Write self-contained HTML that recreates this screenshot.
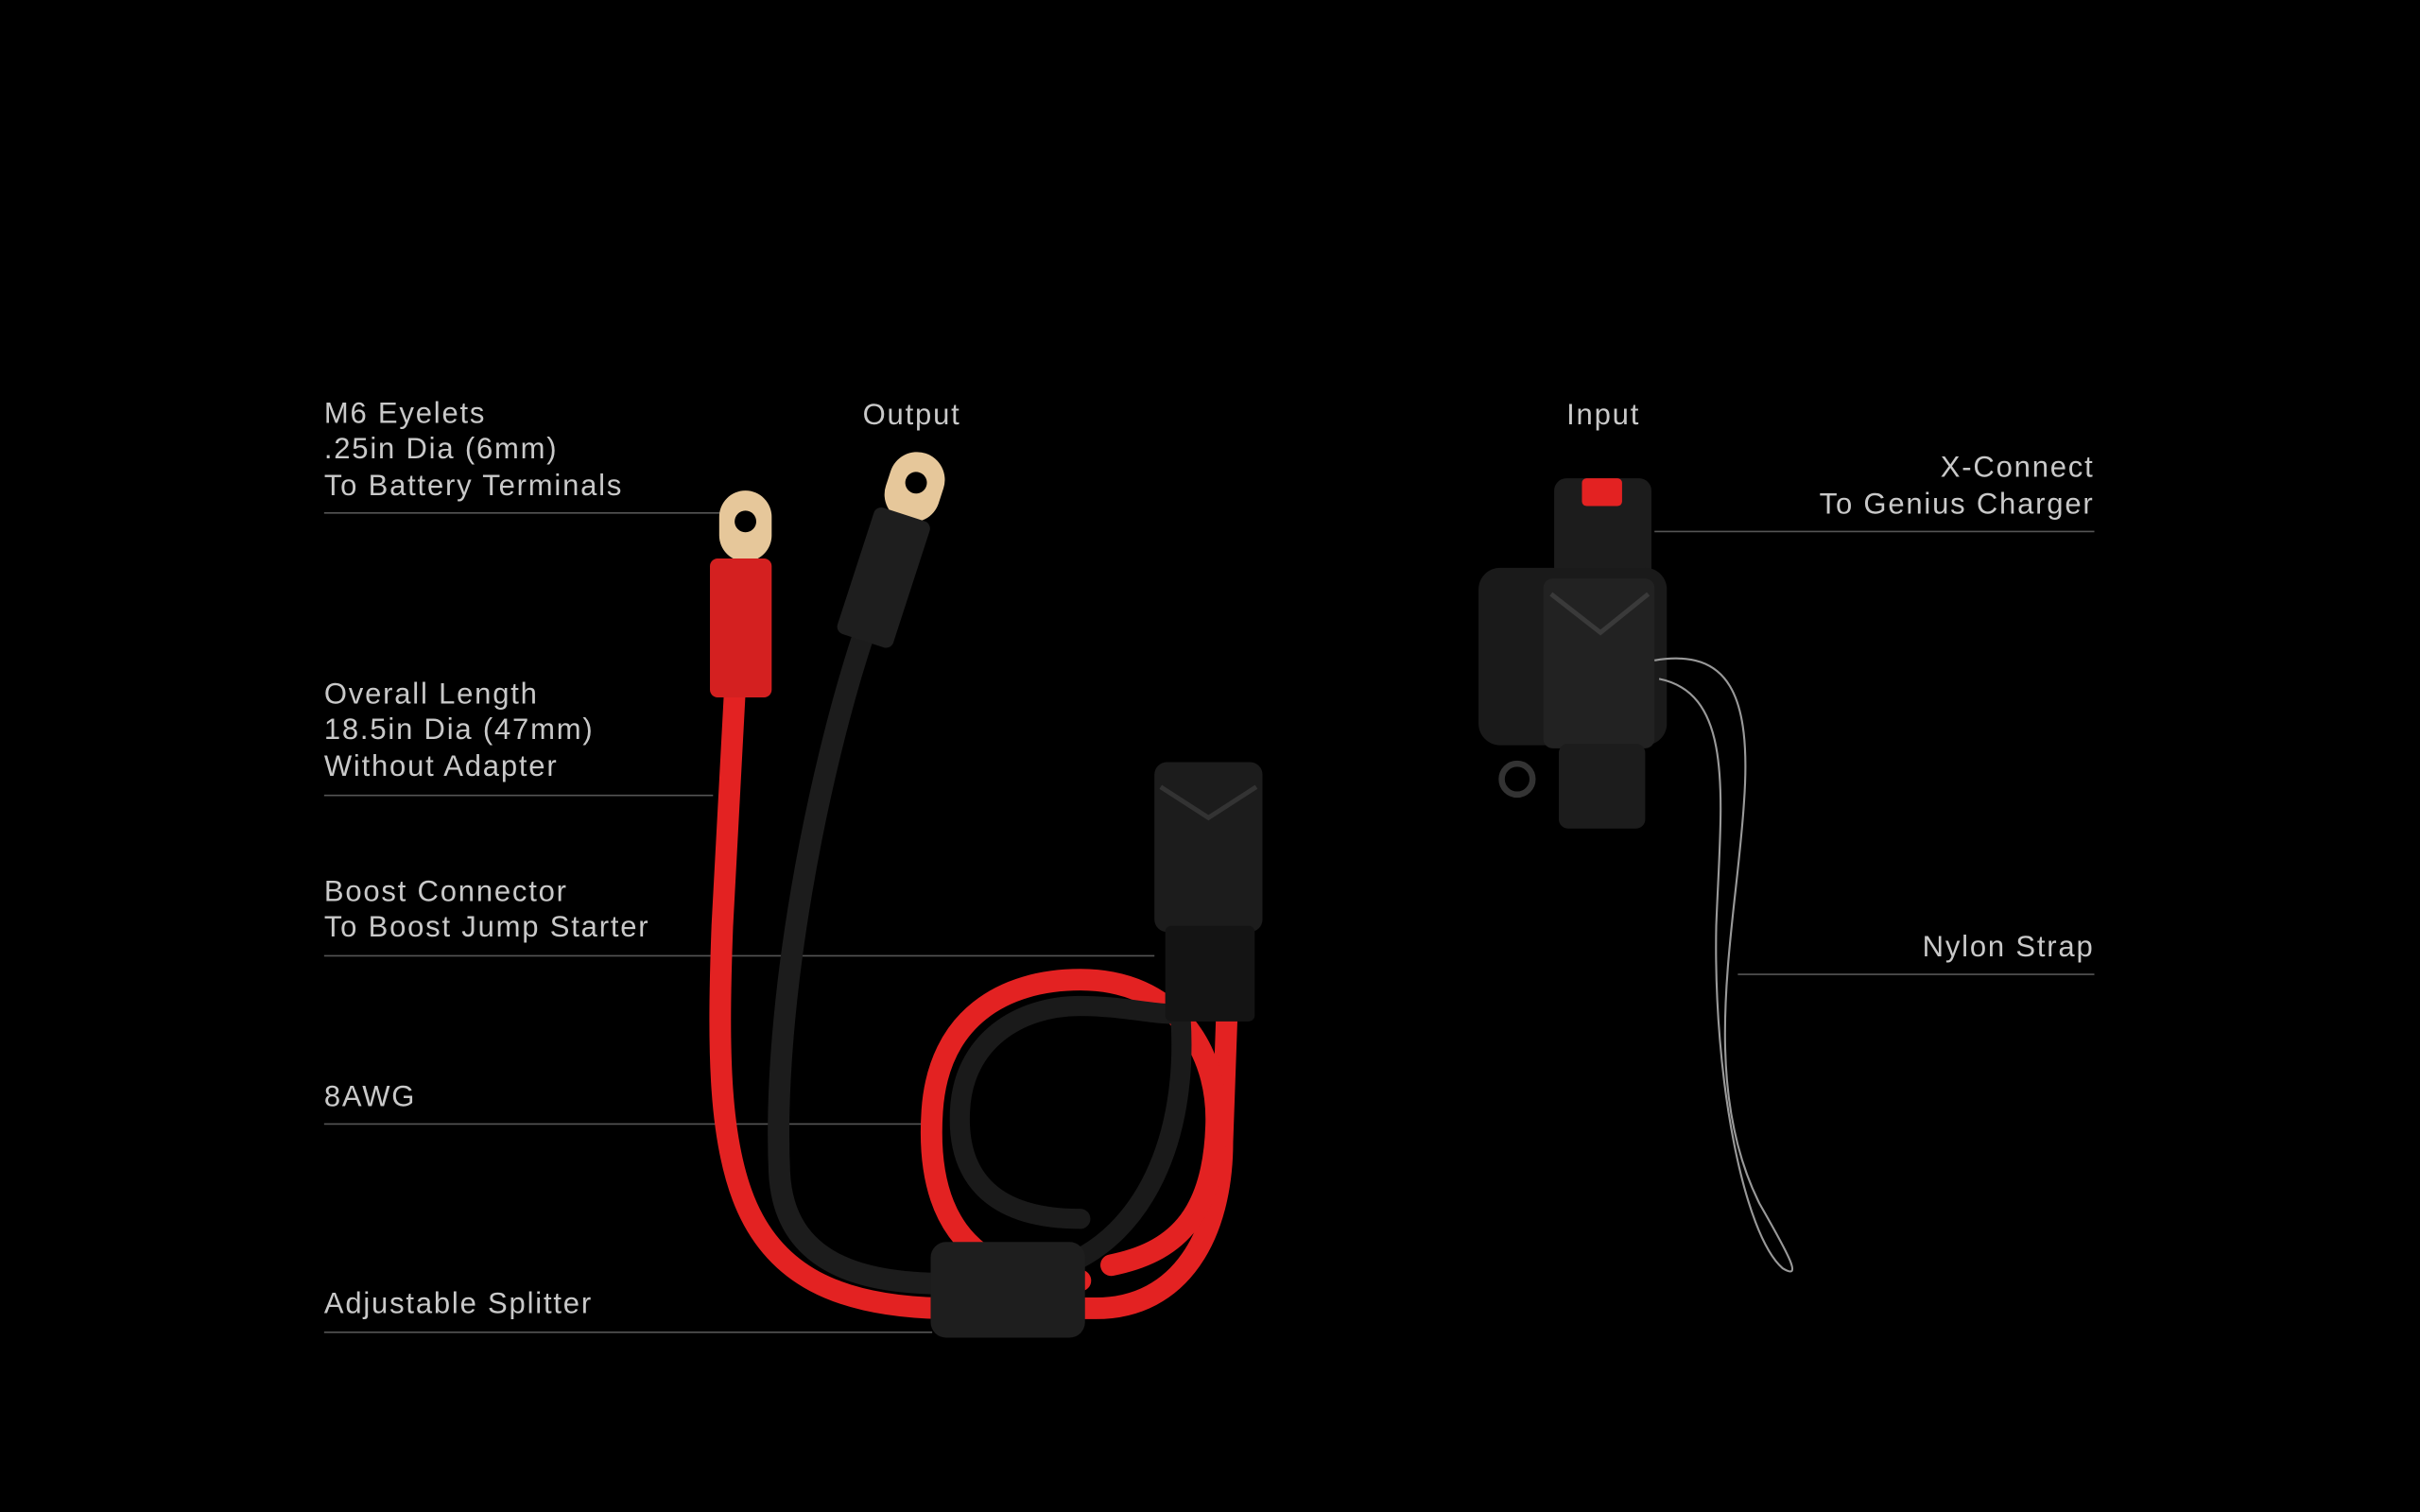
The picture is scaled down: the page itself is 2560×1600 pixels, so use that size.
<!DOCTYPE html>
<html><head><meta charset="utf-8"><style>
html,body{margin:0;padding:0;background:#000;}
svg{display:block}
text{font-family:"Liberation Sans",sans-serif;font-size:19px;fill:#c9c9c9;letter-spacing:1.1px;}
</style></head><body>
<svg width="2560" height="1600" viewBox="0 0 1568 980" xmlns="http://www.w3.org/2000/svg">
<rect width="1568" height="980" fill="#000"/>
<g>
<text x="210" y="274">M6 Eyelets</text>
<text x="210" y="297">.25in Dia (6mm)</text>
<text x="210" y="321">To Battery Terminals</text>
<text x="559" y="275">Output</text>
<text x="1015" y="275">Input</text>
<text x="1357" y="309" text-anchor="end">X-Connect</text>
<text x="1357" y="333" text-anchor="end">To Genius Charger</text>
<text x="210" y="456">Overall Length</text>
<text x="210" y="479">18.5in Dia (47mm)</text>
<text x="210" y="503">Without Adapter</text>
<text x="210" y="584">Boost Connector</text>
<text x="210" y="607">To Boost Jump Starter</text>
<text x="210" y="717">8AWG</text>
<text x="210" y="851">Adjustable Splitter</text>
<text x="1357" y="620" text-anchor="end">Nylon Strap</text>
</g>
<g stroke="#555" stroke-width="1">
<line x1="210" y1="332.5" x2="468" y2="332.5"/>
<line x1="1072" y1="344.5" x2="1357" y2="344.5"/>
<line x1="210" y1="515.5" x2="462" y2="515.5"/>
<line x1="210" y1="619.5" x2="748" y2="619.5"/>
<line x1="210" y1="728.5" x2="598" y2="728.5"/>
<line x1="210" y1="863.5" x2="604" y2="863.5"/>
<line x1="1126" y1="631.5" x2="1357" y2="631.5"/>
</g>
<g fill="none" stroke-linecap="round">
<path d="M560,410 C530,500 500,650 505,760 C508,820 560,832 612,832" stroke="#1c1c1c" stroke-width="14"/>
<path d="M476,450 L468,600 C462,760 470,845 610,848 L710,848 C765,848 792,800 792,740 L795,655" stroke="#e32222" stroke-width="14"/>
<path d="M700,830 C620,830 600,780 604,720 C608,660 650,635 700,635 C760,635 790,680 788,730 C786,790 760,812 720,820" stroke="#e32222" stroke-width="14"/>
<path d="M700,790 C640,790 620,760 622,720 C624,675 660,652 700,652 C740,652 770,665 775,650" stroke="#1a1a1a" stroke-width="13"/>
<path d="M765,660 C770,740 740,800 690,820" stroke="#1a1a1a" stroke-width="13"/>
</g>
<rect x="603" y="805" width="100" height="62" rx="10" fill="#1e1e1e"/>
<rect x="466" y="318" width="34" height="46" rx="17" fill="#e6c79a"/>
<circle cx="483" cy="338" r="7" fill="#000"/>
<rect x="460" y="362" width="40" height="90" rx="5" fill="#d42020"/>
<g transform="rotate(18 588 330)">
<rect x="570" y="292" width="36" height="46" rx="18" fill="#e6c79a"/>
<circle cx="588" cy="312" r="7" fill="#000"/>
<rect x="568" y="334" width="38" height="86" rx="5" fill="#1e1e1e"/>
</g>
<rect x="748" y="494" width="70" height="110" rx="8" fill="#1c1c1c"/>
<path d="M752,510 L783,530 L814,510" stroke="#333" stroke-width="3" fill="none"/>
<rect x="755" y="600" width="58" height="62" rx="4" fill="#141414"/>
<rect x="1007" y="310" width="63" height="70" rx="8" fill="#1c1c1c"/>
<rect x="1025" y="310" width="26" height="18" rx="3" fill="#e32222"/>
<rect x="958" y="368" width="122" height="115" rx="14" fill="#1a1a1a"/>
<rect x="1000" y="375" width="72" height="110" rx="6" fill="#222"/>
<path d="M1005,385 L1037,410 L1068,385" stroke="#3a3a3a" stroke-width="3" fill="none"/>
<rect x="1010" y="482" width="56" height="55" rx="6" fill="#1c1c1c"/>
<circle cx="983" cy="505" r="10" fill="none" stroke="#333" stroke-width="4"/>
<path d="M1072,428 C1120,420 1135,450 1130,520 C1125,600 1100,700 1140,780 C1160,815 1168,830 1155,822 C1130,800 1110,700 1112,600 C1115,520 1125,450 1075,440" fill="none" stroke="#999" stroke-width="1.3"/>
</svg>
</body></html>
